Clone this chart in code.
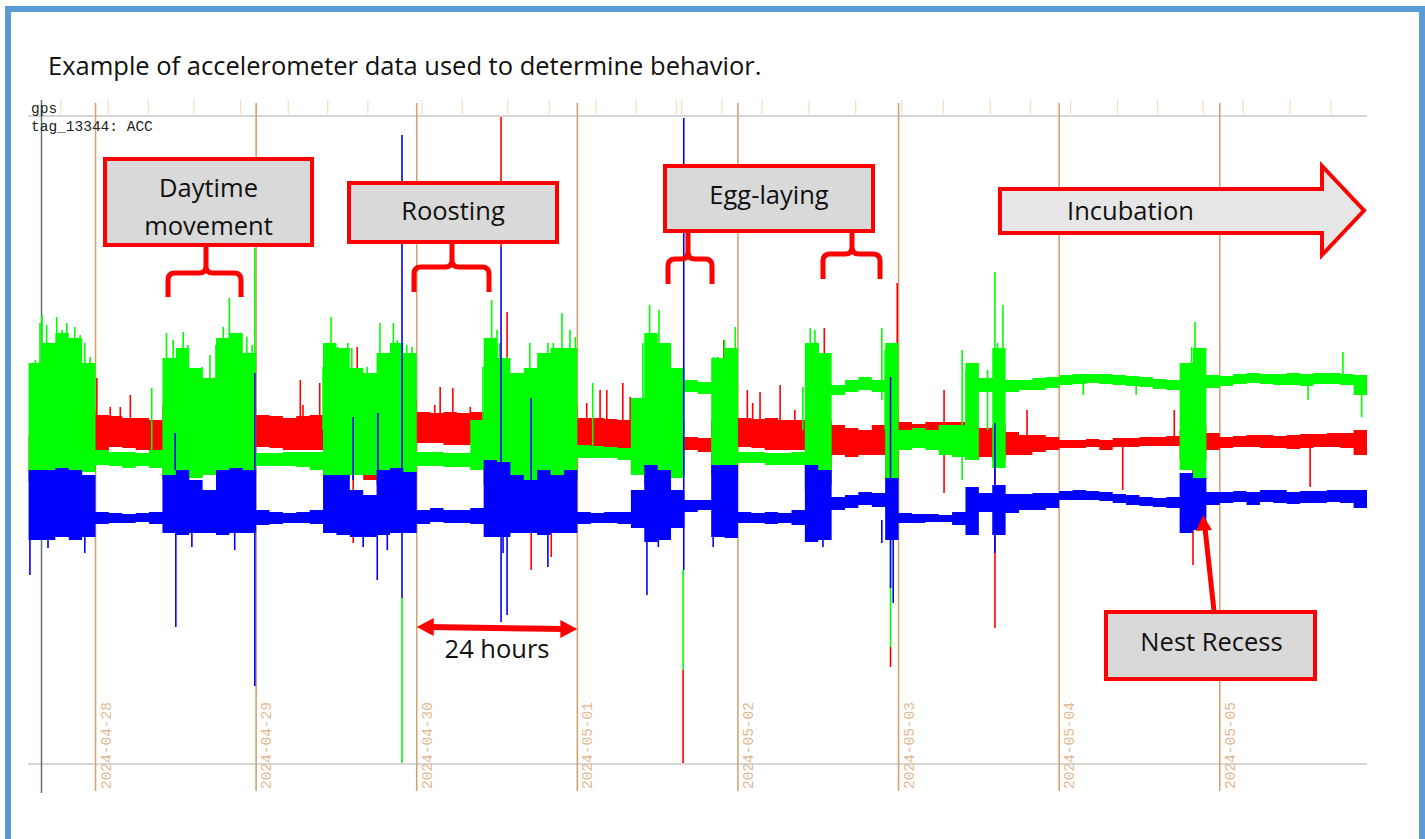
<!DOCTYPE html>
<html>
<head>
<meta charset="utf-8">
<script src="https://cdn.jsdelivr.net/npm/d3@7"></script>
<style>
  body { margin: 0; background: #fff; }
  svg { display: block; }
</style>
</head>
<body>
<div id="container"></div>
<script>
/*--------------------------THE DATA-----------------------*/
// ACC envelope per 2-hour bin (g), first bin starts 2024-04-27 14:00
const binStartHour = -10;   // hours relative to 2024-04-28 00:00
const binSize = 2;

const greenHi = [0.77,0.97,1.07,1.02,0.77,-0.10,-0.12,-0.12,-0.13,-0.10,
  0.82,0.92,0.72,0.62,1.02,1.07,0.87,-0.13,-0.13,-0.12,
  -0.12,-0.12,0.97,0.92,0.72,0.67,0.87,0.97,0.87,-0.12,
  -0.12,-0.13,-0.13,0.20,1.02,0.82,0.67,0.72,0.87,0.92,
  0.92,-0.05,-0.06,-0.07,-0.08,0.42,1.07,0.97,0.72,0.60,
  0.58,0.82,0.92,-0.12,-0.12,-0.13,-0.13,-0.12,0.97,0.87,
  0.55,0.60,0.63,0.60,0.97,0.10,0.12,0.10,0.15,0.15,
  0.77,0.62,0.92,0.60,0.60,0.62,0.63,0.65,0.66,0.66,
  0.66,0.65,0.64,0.63,0.61,0.60,0.77,0.92,0.65,0.64,
  0.66,0.67,0.66,0.66,0.67,0.66,0.67,0.67,0.66,0.65];
const greenLo = [-0.37,-0.35,-0.30,-0.30,-0.32,-0.25,-0.26,-0.28,-0.26,-0.28,
  -0.38,-0.40,-0.38,-0.35,-0.35,-0.35,-0.35,-0.26,-0.26,-0.26,
  -0.27,-0.30,-0.38,-0.38,-0.35,-0.35,-0.38,-0.38,-0.35,-0.26,
  -0.26,-0.27,-0.27,-0.30,-0.45,-0.45,-0.45,-0.45,-0.45,-0.45,
  -0.40,-0.18,-0.18,-0.18,-0.20,-0.35,-0.40,-0.40,-0.38,0.48,
  0.46,-0.30,-0.30,-0.23,-0.23,-0.25,-0.25,-0.25,-0.50,-0.45,
  0.45,0.48,0.50,0.48,-0.40,-0.10,-0.08,-0.10,-0.15,-0.17,
  -0.20,0.48,-0.28,0.48,0.50,0.50,0.52,0.55,0.56,0.57,
  0.56,0.55,0.54,0.53,0.51,0.50,-0.30,-0.40,0.52,0.54,
  0.56,0.57,0.56,0.55,0.55,0.54,0.56,0.56,0.55,0.45];

const redHi = [0.05,0.08,0.05,0.10,0.30,0.25,0.24,0.22,0.22,0.20,
  0.35,0.30,0.40,0.40,0.30,0.30,0.35,0.25,0.24,0.22,
  0.24,0.25,0.35,0.45,0.60,0.40,0.30,0.35,0.40,0.28,
  0.27,0.28,0.27,0.28,0.30,0.35,0.20,0.30,0.35,0.40,
  0.35,0.22,0.22,0.21,0.20,0.20,0.20,0.20,0.20,0.03,
  0.02,0.20,0.20,0.22,0.21,0.22,0.20,0.20,0.20,0.20,
  0.15,0.12,0.10,0.15,0.25,0.18,0.16,0.18,0.18,0.18,
  0.15,0.12,0.15,0.08,0.05,0.05,0.03,0.00,0.00,0.01,
  0.00,0.02,0.02,0.03,0.03,0.04,0.10,0.15,0.07,0.03,
  0.04,0.05,0.05,0.04,0.05,0.06,0.06,0.07,0.07,0.10];
const redLo = [-0.42,-0.45,-0.45,-0.40,-0.30,-0.10,-0.07,-0.08,-0.10,-0.14,
  -0.40,-0.45,-0.38,-0.30,-0.42,-0.40,-0.35,-0.07,-0.08,-0.10,
  -0.10,-0.10,-0.40,-0.30,-0.35,-0.40,-0.45,-0.40,-0.35,-0.03,
  -0.03,-0.05,-0.05,-0.03,-0.45,-0.50,-0.45,-0.50,-0.45,-0.45,
  -0.40,-0.07,-0.08,-0.10,-0.10,-0.30,-0.45,-0.45,-0.35,-0.10,
  -0.12,-0.35,-0.40,-0.07,-0.08,-0.10,-0.10,-0.10,-0.50,-0.45,
  -0.15,-0.17,-0.15,-0.15,-0.40,-0.05,-0.07,-0.05,0.00,-0.05,
  -0.20,-0.17,-0.20,-0.15,-0.15,-0.12,-0.10,-0.08,-0.08,-0.07,
  -0.10,-0.07,-0.07,-0.06,-0.06,-0.06,-0.20,-0.20,-0.10,-0.08,
  -0.07,-0.07,-0.08,-0.08,-0.09,-0.08,-0.07,-0.07,-0.08,-0.15];

const blueHi = [-0.30,-0.30,-0.28,-0.30,-0.35,-0.72,-0.73,-0.74,-0.73,-0.72,
  -0.35,-0.30,-0.40,-0.50,-0.30,-0.28,-0.30,-0.70,-0.72,-0.73,
  -0.72,-0.70,-0.35,-0.35,-0.50,-0.55,-0.30,-0.28,-0.32,-0.70,
  -0.68,-0.70,-0.70,-0.68,-0.20,-0.22,-0.35,-0.40,-0.30,-0.35,
  -0.30,-0.72,-0.73,-0.72,-0.72,-0.50,-0.25,-0.30,-0.50,-0.60,
  -0.60,-0.25,-0.25,-0.72,-0.73,-0.72,-0.73,-0.70,-0.25,-0.30,
  -0.57,-0.55,-0.52,-0.53,-0.38,-0.73,-0.74,-0.74,-0.75,-0.72,
  -0.47,-0.53,-0.45,-0.54,-0.54,-0.53,-0.53,-0.51,-0.50,-0.51,
  -0.52,-0.54,-0.55,-0.57,-0.58,-0.57,-0.33,-0.38,-0.52,-0.52,
  -0.51,-0.52,-0.50,-0.50,-0.52,-0.51,-0.51,-0.50,-0.50,-0.50];
const blueLo = [-1.00,-1.00,-0.97,-1.00,-0.97,-0.84,-0.83,-0.83,-0.82,-0.84,
  -0.93,-0.95,-0.93,-0.93,-0.95,-0.93,-0.93,-0.85,-0.84,-0.83,
  -0.83,-0.84,-0.93,-0.95,-0.97,-0.97,-0.95,-0.93,-0.93,-0.84,
  -0.82,-0.83,-0.83,-0.84,-0.97,-0.97,-0.93,-0.93,-0.95,-0.93,
  -0.93,-0.84,-0.83,-0.83,-0.84,-0.88,-1.02,-1.00,-0.88,-0.72,
  -0.70,-0.97,-0.98,-0.83,-0.83,-0.84,-0.83,-0.85,-1.02,-1.00,
  -0.70,-0.68,-0.65,-0.67,-1.00,-0.83,-0.83,-0.82,-0.82,-0.85,
  -0.95,-0.72,-0.95,-0.73,-0.70,-0.70,-0.68,-0.60,-0.60,-0.60,
  -0.61,-0.63,-0.65,-0.66,-0.67,-0.68,-0.93,-0.90,-0.65,-0.63,
  -0.62,-0.65,-0.62,-0.63,-0.64,-0.63,-0.63,-0.62,-0.63,-0.68];

// single extreme samples: [hour, from g, to g]
const greenSpikes = [[-9.0,0.80,0.10],[-8.3,1.17,0.40],[-8.0,1.25,0.10],[-7.3,1.15,0.10],[-5.8,1.23,0.10],
  [-5.0,1.10,0.10],[-4.3,1.17,0.10],[-3.1,1.13,0.10],[-2.3,1.05,0.10],[-1.6,0.97,0.10],[-0.8,0.83,0.10],
  [8.4,0.52,-0.15],[10.6,1.07,0.10],[11.6,1.00,0.10],[13.1,1.08,0.10],[13.8,0.95,0.10],[14.6,0.70,0.10],
  [15.9,0.73,0.10],[17.1,0.85,0.10],[18.0,0.95,0.10],[19.1,1.13,0.10],[20.0,1.42,-0.30],[20.9,1.05,0.10],
  [21.6,1.00,0.10],[22.6,1.03,0.10],[23.4,0.95,0.10],[23.8,1.92,-0.30],
  [34.0,0.73,0.10],[35.2,1.23,-0.10],[36.2,0.93,0.10],[37.7,0.97,0.10],[38.3,0.92,0.10],[40.6,0.73,0.10],
  [42.5,1.17,-0.10],[43.3,0.67,0.10],[44.5,1.17,0.10],[45.1,1.00,0.10],[45.8,-1.58,-3.23],[46.5,0.95,0.10],
  [47.3,0.93,0.10],
  [57.9,0.73,0.10],[59.2,1.40,-0.10],[60.0,1.10,0.10],[60.4,0.97,0.10],[61.5,0.83,0.10],[62.7,0.57,0.10],
  [64.9,0.97,-0.10],[66.4,0.70,0.10],[67.6,0.97,0.10],[68.4,0.97,0.10],[69.7,1.27,0.10],[70.9,1.10,-0.10],
  [71.7,1.03,0.10],[74.3,0.57,-0.07],
  [81.8,0.97,0.10],[82.8,1.35,-0.20],[83.6,0.93,0.10],[84.2,1.30,-0.20],[84.8,0.93,0.10],[85.8,0.53,0.10],
  [87.0,0.50,0.10],[87.8,-1.30,-2.30],
  [92.3,0.83,0.10],[93.0,0.83,0.10],[94.0,1.00,0.10],[94.8,0.83,0.10],[95.6,1.13,-0.20],
  [105.7,0.53,0.10],[106.8,1.12,-0.20],[107.5,1.10,0.10],[108.0,0.97,0.10],[108.7,0.80,0.10],[109.5,0.83,0.10],
  [117.5,1.12,0.40],[118.0,0.90,0.10],[118.4,0.97,0.10],[118.8,-0.40,-2.07],
  [129.5,0.90,-0.40],[130.1,0.70,0.10],[133.3,0.70,0.10],[134.4,1.68,-0.30],[134.8,0.97,0.10],
  [135.6,1.35,-0.10],[147.6,0.60,0.45],[155.5,0.60,0.45],
  [163.8,0.93,0.10],[164.3,1.18,-0.40],[165.5,0.87,0.10],
  [181.2,0.65,0.40],[186.4,0.88,0.55],[189.2,0.60,0.23]];
const redSpikes = [[0.2,0.62,0.00],[2.2,0.33,0.00],[3.7,0.33,0.00],[5.2,0.45,0.00],[30.6,0.60,0.00],
  [31.0,0.35,0.00],[33.5,0.57,0.00],[38.5,0.40,-1.03],[39.1,0.93,0.00],[48.9,0.25,0.00],[50.7,0.35,0.00],
  [51.5,0.53,0.00],[53.4,0.52,0.00],[56.0,0.33,0.00],[60.6,3.23,1.93],[61.5,1.28,-0.33],[65.1,0.40,-1.30],
  [68.1,0.00,-1.17],[73.4,0.37,0.00],[75.4,0.50,0.00],[76.4,0.50,0.00],[78.8,0.57,0.00],[79.9,0.43,0.00],
  [87.8,-2.30,-3.23],[93.9,1.00,0.00],[97.4,0.50,0.00],[98.2,0.37,0.00],[99.3,0.48,0.00],[102.3,0.55,0.00],
  [104.5,0.30,0.00],[108.9,1.12,0.00],[118.8,-2.07,-2.27],[119.8,1.57,0.00],[126.8,0.50,-0.53],
  [134.4,0.00,-1.88],[139.2,0.30,0.00],[153.5,0.00,-0.50],[161.2,0.30,0.00],[164.0,0.00,-1.25],
  [181.5,0.00,-0.47]];
const blueSpikes = [[-9.8,-0.80,-1.35],[-7.1,-0.80,-1.08],[-1.6,-0.80,-1.13],[11.9,0.07,-0.30],
  [12.0,-0.80,-1.87],[14.4,-0.80,-1.07],[20.8,-0.80,-1.10],[23.8,0.67,-2.46],[38.5,0.23,-0.40],
  [40.0,-0.80,-1.07],[42.1,-0.80,-1.40],[42.2,0.27,-0.40],[43.6,-0.80,-1.10],[45.8,3.05,-1.58],
  [60.6,1.93,-1.82],[60.9,-0.80,-1.13],[61.5,-0.30,-1.75],[65.1,0.42,-0.80],[67.6,-0.80,-1.27],
  [82.4,-0.80,-1.55],[84.1,-0.80,-1.07],[87.9,3.22,-1.30],[92.3,-0.80,-1.07],[108.7,-0.80,-1.07],
  [117.5,-0.80,-1.03],[118.8,0.63,-1.48],[119.2,-0.60,-1.63],[134.4,0.17,-1.13]];

// gps fixes (hours relative to 2024-04-28 00:00)
const gpsFixHours = [-5.2,1.9,7.9,14.7,21.7,28.8,34.7,40.7,48.8,54.8,61.6,67.8,74.8,80.8,86.8,87.6,
  93.6,99.6,106.6,113.6,120.5,126.7,133.7,139.7,145.7,152.7,158.7,165.5,171.5,178.5,184.6];

/*--------------------------THE CHART-----------------------*/
const w = 1425;
const h = 839;
const day0 = new Date(2024, 3, 28);
const hourToDate = hr => new Date(+day0 + hr * 3600e3);

const svg = d3
  .select("#container")
  .append("svg")
  .attr("width", w)
  .attr("height", h);

svg.append("rect").attr("width", w).attr("height", h).attr("fill", "#fff");

const x = d3
  .scaleTime()
  .domain([hourToDate(-10), hourToDate(190)])
  .range([28.6, 1367]);
const y = d3
  .scaleLinear()
  .domain([-3.24, 3.24])
  .range([764, 116]);

const font = "'Open Sans', sans-serif";
const fontSize = 25.5;
const mono = "'Liberation Mono', 'Courier New', monospace";

//Frame + title
svg.append("rect")
  .attr("x", 8).attr("y", 9)
  .attr("width", 1414).attr("height", 850)
  .attr("fill", "none")
  .attr("stroke", "#5b9bd5")
  .attr("stroke-width", 6);

svg.append("text")
  .attr("x", 48).attr("y", 75)
  .attr("font-family", font)
  .attr("font-size", fontSize)
  .attr("fill", "#111")
  .text("Example of accelerometer data used to determine behavior.");

//Track frame lines
const [x0, x1] = x.range();
svg.selectAll("line.track")
  .data([116, 764])
  .join("line")
  .attr("class", "track")
  .attr("x1", x0 - 0.6).attr("x2", x1)
  .attr("y1", d => d).attr("y2", d => d)
  .attr("stroke", "#c8c8c8")
  .attr("stroke-width", 1.5);

//GPS fixes
svg.selectAll("line.gps")
  .data(gpsFixHours)
  .join("line")
  .attr("class", "gps")
  .attr("x1", d => x(hourToDate(d))).attr("x2", d => x(hourToDate(d)))
  .attr("y1", 100).attr("y2", 114)
  .attr("stroke", "#fcdcbc")
  .attr("stroke-width", 1.2);

//Day lines
const days = d3.timeDay.range(day0, new Date(2024, 4, 6));
svg.selectAll("line.day")
  .data(days)
  .join("line")
  .attr("class", "day")
  .attr("x1", d => x(d)).attr("x2", d => x(d))
  .attr("y1", 103).attr("y2", 791)
  .attr("stroke", "#d3a373")
  .attr("stroke-width", 1.6);

svg.selectAll("text.day")
  .data(days)
  .join("text")
  .attr("class", "day")
  .attr("transform", d => `translate(${x(d) + 15},789) rotate(-90)`)
  .attr("font-family", mono)
  .attr("font-size", 14.5)
  .attr("fill", "#e4b891")
  .text(d3.timeFormat("%Y-%m-%d"));

//Start marker
svg.append("line")
  .attr("x1", 41.5).attr("x2", 41.5)
  .attr("y1", 100).attr("y2", 793)
  .attr("stroke", "#5f7670")
  .attr("stroke-width", 1.5);

svg.append("text")
  .attr("x", 31).attr("y", 113)
  .attr("font-family", mono).attr("font-size", 14.5).attr("fill", "#222")
  .text("gps");
svg.append("text")
  .attr("x", 31).attr("y", 131)
  .attr("font-family", mono).attr("font-size", 14.5).attr("fill", "#222")
  .text("tag_13344: ACC");

//THE SERIES
function drawBand(hi, lo, color) {
  const pts = hi.map((v, i) => ({ t: hourToDate(binStartHour + binSize * i), hi: v, lo: lo[i] }));
  pts.push({ t: x.domain()[1], hi: hi[hi.length - 1], lo: lo[lo.length - 1] });
  const area = d3.area()
    .x(d => x(d.t))
    .y0(d => y(d.lo))
    .y1(d => y(d.hi))
    .curve(d3.curveStepAfter);
  svg.append("path").datum(pts).attr("d", area).attr("fill", color);
}

function drawSpikes(spikes, color) {
  svg.append("g")
    .selectAll("line")
    .data(spikes)
    .join("line")
    .attr("x1", d => x(hourToDate(d[0]))).attr("x2", d => x(hourToDate(d[0])))
    .attr("y1", d => y(d[1])).attr("y2", d => y(d[2]))
    .attr("stroke", color)
    .attr("stroke-width", 1.6);
}

drawBand(redHi, redLo, "#ff0000");
drawSpikes(redSpikes, "#ff0000");
drawBand(greenHi, greenLo, "#00ff00");
drawSpikes(greenSpikes, "#00ff00");
drawBand(blueHi, blueLo, "#0000ff");
drawSpikes(blueSpikes, "#0000ff");

/*--------------------------ANNOTATIONS-----------------------*/
const red = "#ff0000";

function label(t, cx, base) {
  svg.append("text")
    .attr("x", cx).attr("y", base)
    .attr("text-anchor", "middle")
    .attr("font-family", font)
    .attr("font-size", fontSize)
    .attr("fill", "#111")
    .text(t);
}

function box(x0, y0, bw, bh, lines, cx, baselines) {
  svg.append("rect")
    .attr("x", x0).attr("y", y0)
    .attr("width", bw).attr("height", bh)
    .attr("fill", "#d9d9d9")
    .attr("stroke", red)
    .attr("stroke-width", 4);
  lines.forEach((t, i) => label(t, cx, baselines[i]));
}

function brace(cx, left, right, stemTop, armY, endY) {
  const r = 7;
  const p = d3.path();
  p.moveTo(left, endY);
  p.lineTo(left, armY + r);
  p.quadraticCurveTo(left, armY, left + r, armY);
  p.lineTo(cx - r, armY);
  p.quadraticCurveTo(cx, armY, cx, armY - r);
  p.lineTo(cx, stemTop);
  p.moveTo(right, endY);
  p.lineTo(right, armY + r);
  p.quadraticCurveTo(right, armY, right - r, armY);
  p.lineTo(cx + r, armY);
  p.quadraticCurveTo(cx, armY, cx, armY - r);
  svg.append("path")
    .attr("d", p.toString())
    .attr("fill", "none")
    .attr("stroke", red)
    .attr("stroke-width", 5);
}

brace(206, 168, 241, 247, 273, 297);
brace(452, 414, 489, 243, 267, 292);
brace(688, 668, 712, 232, 259, 284);
brace(852, 823, 880, 232, 254, 279);

box(105, 159, 207, 86, ["Daytime", "movement"], 208.5, [197, 235]);
box(349, 183, 208, 59, ["Roosting"], 453, [220]);
box(665, 166, 208, 65, ["Egg-laying"], 769, [204]);
box(1106, 612, 209, 67, ["Nest Recess"], 1211.5, [651]);

//Incubation arrow
svg.append("path")
  .attr("d", "M1000,189 L1322,189 L1322,166 L1364,210.5 L1322,255 L1322,233 L1000,233 Z")
  .attr("fill", "#e6e6e6")
  .attr("stroke", red)
  .attr("stroke-width", 4);
label("Incubation", 1130.5, 220);

//24 hours arrow between two day lines
const a0 = x(new Date(2024, 3, 30));
const a1 = x(new Date(2024, 4, 1));
svg.append("line")
  .attr("x1", a0 + 12).attr("y1", 627)
  .attr("x2", a1 - 12).attr("y2", 629)
  .attr("stroke", red).attr("stroke-width", 6);
svg.append("path")
  .attr("d", `M${a0},627 L${a0 + 17},618 L${a0 + 17},636 Z M${a1},629 L${a1 - 17},620 L${a1 - 17},638 Z`)
  .attr("fill", red);
label("24 hours", (a0 + a1) / 2, 658);

//Nest recess pointer
svg.append("line")
  .attr("x1", 1214).attr("y1", 611)
  .attr("x2", 1205).attr("y2", 528)
  .attr("stroke", red).attr("stroke-width", 5);
svg.append("path")
  .attr("d", "M1203,515 L1196,531 L1212,530 Z")
  .attr("fill", red);
</script>
</body>
</html>
